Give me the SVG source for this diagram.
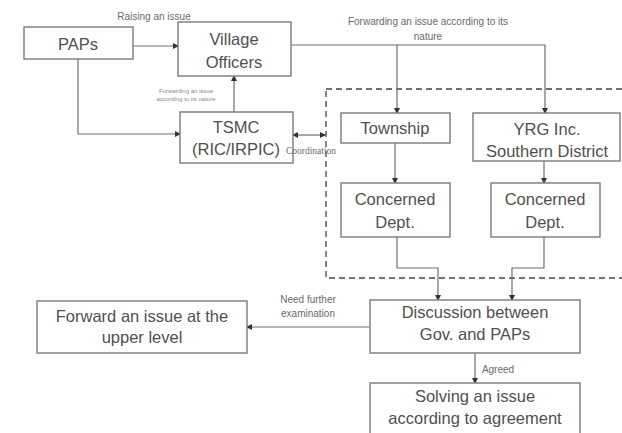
<svg xmlns="http://www.w3.org/2000/svg" width="622" height="433" viewBox="0 0 622 433">
  <style>
    .box { fill: #ffffff; stroke: #7a7a7a; stroke-width: 1.4; }
    .t { font-family: "Liberation Sans", Arial, sans-serif; font-size: 16.5px; fill: #505050; text-anchor: middle; }
    .lbl { font-family: "Liberation Sans", Arial, sans-serif; font-size: 10px; fill: #6a6a6a; text-anchor: middle; }
    .tiny { font-family: "Liberation Sans", Arial, sans-serif; font-size: 6px; fill: #8a8a8a; text-anchor: middle; }
    .ser { font-family: "Liberation Serif", "Times New Roman", serif; font-size: 9.5px; fill: #6a6a6a; text-anchor: middle; }
    .ln { fill: none; stroke: #6e6e6e; stroke-width: 1.2; }
    .dash { fill: none; stroke: #444; stroke-width: 1.3; stroke-dasharray: 6 4; }
  </style>
  <defs>
    <marker id="ah" markerWidth="6" markerHeight="6" refX="5" refY="3" orient="auto" markerUnits="userSpaceOnUse">
      <path d="M0,0 L6,3 L0,6 z" fill="#333"/>
    </marker>
    <marker id="ahs" markerWidth="6" markerHeight="6" refX="1" refY="3" orient="auto" markerUnits="userSpaceOnUse">
      <path d="M6,0 L0,3 L6,6 z" fill="#333"/>
    </marker>
  </defs>
  <rect width="622" height="433" fill="#ffffff"/>

  <!-- dashed boundary around government bodies -->
  <rect class="dash" x="326" y="89" width="310" height="189"/>

  <g id="connectors">
    <line class="ln" x1="133" y1="46" x2="178" y2="46" marker-end="url(#ah)"/>
    <polyline class="ln" points="78,59 78,134 180,134" marker-end="url(#ah)"/>
    <line class="ln" x1="234" y1="112" x2="234" y2="76" marker-end="url(#ah)"/>
    <line class="ln" x1="293" y1="135" x2="325" y2="135" marker-start="url(#ahs)" marker-end="url(#ah)"/>
    <polyline class="ln" points="291,45 545,45 545,113" marker-end="url(#ah)"/>
    <line class="ln" x1="397" y1="45" x2="397" y2="113" marker-end="url(#ah)"/>
    <line class="ln" x1="395" y1="143" x2="395" y2="183" marker-end="url(#ah)"/>
    <line class="ln" x1="544" y1="161" x2="544" y2="183" marker-end="url(#ah)"/>
    <polyline class="ln" points="397,237 397,268 438,268 438,300" marker-end="url(#ah)"/>
    <polyline class="ln" points="544,237 544,268 512,268 512,300" marker-end="url(#ah)"/>
    <line class="ln" x1="370" y1="327" x2="247" y2="327" marker-end="url(#ah)"/>
    <line class="ln" x1="475" y1="353" x2="475" y2="383" marker-end="url(#ah)"/>
  </g>

  <g id="paps">
    <rect class="box" x="24" y="27" width="109" height="32"/>
    <text class="t" x="78" y="50">PAPs</text>
  </g>
  <g id="village-officers">
    <rect class="box" x="178" y="22" width="113" height="54"/>
    <text class="t" x="234" y="45">Village</text>
    <text class="t" x="234" y="68">Officers</text>
  </g>
  <g id="tsmc">
    <rect class="box" x="180" y="112" width="113" height="51"/>
    <text class="t" x="236" y="133">TSMC</text>
    <text class="t" x="236" y="155">(RIC/IRPIC)</text>
  </g>
  <g id="township">
    <rect class="box" x="341" y="113" width="109" height="30"/>
    <text class="t" x="395" y="134">Township</text>
  </g>
  <g id="yrg">
    <rect class="box" x="473" y="113" width="147" height="48"/>
    <text class="t" x="547" y="135">YRG Inc.</text>
    <text class="t" x="547" y="157">Southern District</text>
  </g>
  <g id="concerned-dept-1">
    <rect class="box" x="341" y="183" width="109" height="54"/>
    <text class="t" x="395" y="205">Concerned</text>
    <text class="t" x="395" y="228">Dept.</text>
  </g>
  <g id="concerned-dept-2">
    <rect class="box" x="491" y="183" width="109" height="54"/>
    <text class="t" x="545" y="205">Concerned</text>
    <text class="t" x="545" y="228">Dept.</text>
  </g>
  <g id="discussion">
    <rect class="box" x="370" y="300" width="210" height="53"/>
    <text class="t" x="475" y="318">Discussion between</text>
    <text class="t" x="475" y="340">Gov. and PAPs</text>
  </g>
  <g id="forward-upper">
    <rect class="box" x="37" y="301" width="210" height="52"/>
    <text class="t" x="142" y="322">Forward an issue at the</text>
    <text class="t" x="142" y="343">upper level</text>
  </g>
  <g id="solving">
    <rect class="box" x="370" y="383" width="210" height="60"/>
    <text class="t" x="475" y="402">Solving an issue</text>
    <text class="t" x="475" y="424">according to agreement</text>
  </g>

  <!-- connector labels sit on top of the boxes -->
  <g id="connector-labels">
    <text class="lbl" x="154" y="20">Raising an issue</text>
    <text class="lbl" x="428" y="25">Forwarding an issue according to its</text>
    <text class="lbl" x="428" y="40">nature</text>
    <text class="tiny" x="186" y="93">Forwarding an issue</text>
    <text class="tiny" x="186" y="101">according to its nature</text>
    <text class="ser" x="311" y="154">Coordination</text>
    <text class="lbl" x="308" y="303">Need further</text>
    <text class="lbl" x="308" y="317">examination</text>
    <text class="lbl" x="498" y="373">Agreed</text>
  </g>
</svg>
